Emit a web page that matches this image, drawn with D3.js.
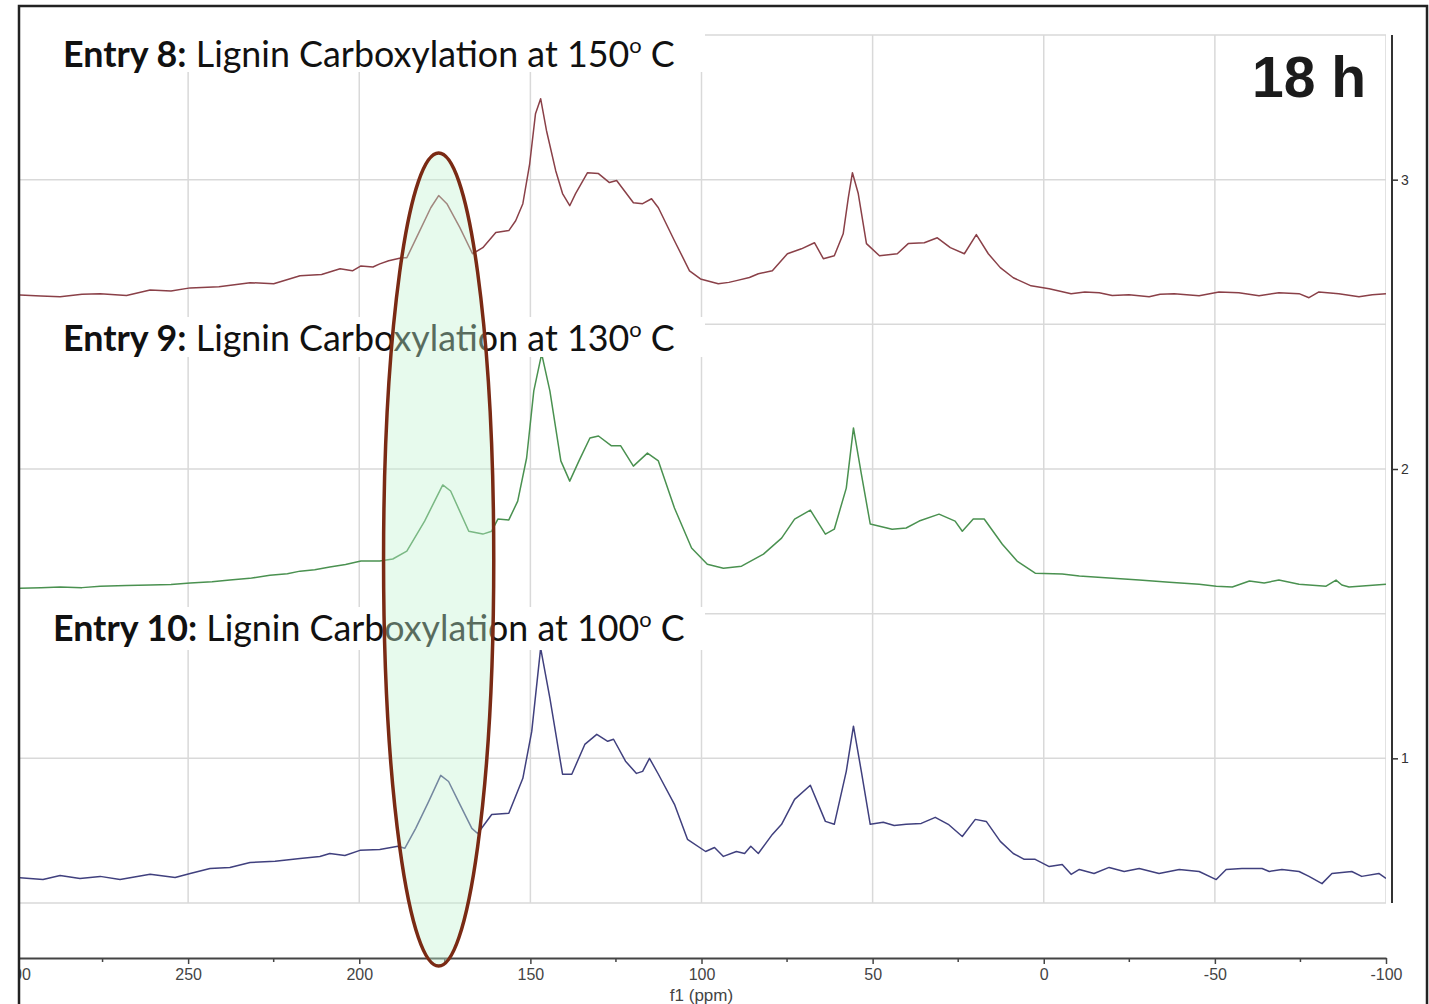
<!DOCTYPE html>
<html><head><meta charset="utf-8">
<script src="https://cdn.jsdelivr.net/npm/d3@7"></script>
<style>body{margin:0;background:#fff;} svg{display:block;}</style>
</head><body><svg id="c" width="1429" height="1004"></svg>
<script>
// ---------- data ----------
const xTickValues = [300, 250, 200, 150, 100, 50, 0, -50, -100];
const xMinorTicks = [275, 225, 175, 125, 75, 25, -25, -75];
const yTickValues = [1, 2, 3];
const yGridValues = [0.5, 1, 1.5, 2, 2.5, 3, 3.5];
const xAxisTitle = "f1 (ppm)";
const timeLabel = "18 h";

// [ppm, intensity]
const entry8 = [[300,2.602],[293,2.598],[287.4,2.595],[281,2.604],[275.7,2.606],[268,2.600],[261.1,2.619],[255,2.615],[249.4,2.626],[241,2.630],[231.9,2.644],[225,2.640],[217.3,2.668],[211,2.672],[205.6,2.692],[202,2.685],[199.5,2.702],[196,2.698],[194.0,2.709],[191.4,2.720],[187.6,2.730],[186.1,2.730],[182.3,2.824],[179.1,2.903],[176.8,2.945],[174.4,2.917],[170.6,2.834],[166.9,2.744],[163.9,2.765],[160.1,2.817],[156.3,2.824],[154.3,2.858],[152.2,2.917],[150.2,3.055],[148.5,3.228],[147.0,3.280],[145.3,3.170],[142.6,3.031],[140.6,2.952],[138.5,2.910],[136.8,2.952],[133.3,3.024],[130.1,3.021],[126.9,2.990],[124.8,2.997],[119.9,2.920],[117.2,2.917],[114.6,2.934],[112.6,2.903],[107.9,2.789],[103.5,2.685],[100.3,2.657],[95.1,2.640],[92,2.645],[89.8,2.651],[86,2.662],[83.4,2.675],[79.3,2.685],[74.9,2.744],[70.8,2.761],[67.0,2.782],[64.4,2.727],[61.2,2.737],[58.6,2.813],[57.1,2.938],[55.9,3.024],[54.2,2.952],[51.8,2.779],[48.0,2.737],[42.8,2.744],[39.6,2.779],[34.9,2.782],[31.1,2.799],[27.3,2.765],[23.2,2.744],[19.7,2.810],[16.2,2.744],[12.7,2.696],[8.9,2.661],[3.7,2.633],[-1.6,2.623],[-8.0,2.606],[-12,2.612],[-16.2,2.609],[-20,2.600],[-24.9,2.602],[-30.8,2.595],[-34,2.604],[-38.1,2.606],[-45.4,2.599],[-51.2,2.612],[-57.0,2.609],[-62.9,2.599],[-68.7,2.609],[-74.6,2.606],[-77.5,2.592],[-80.4,2.612],[-86.2,2.606],[-92.1,2.595],[-96,2.602],[-100,2.606]];

const entry9 = [[300,1.588],[293,1.590],[287.4,1.592],[281,1.590],[275.7,1.595],[268,1.597],[261.1,1.599],[255,1.601],[249.4,1.606],[243,1.610],[237.8,1.616],[232,1.622],[226.1,1.633],[221,1.638],[217.3,1.647],[213,1.652],[208.6,1.661],[204,1.670],[199.5,1.682],[194.0,1.682],[190.2,1.689],[186.1,1.716],[180.9,1.820],[175.6,1.945],[173.3,1.924],[168.0,1.785],[163.9,1.775],[161.3,1.785],[159.5,1.827],[156.3,1.824],[153.7,1.889],[151.1,2.038],[149.0,2.270],[146.7,2.398],[144.3,2.270],[141.1,2.028],[138.5,1.958],[135.8,2.028],[132.6,2.107],[130.1,2.114],[126.3,2.080],[123.6,2.080],[119.9,2.010],[115.8,2.055],[112.6,2.028],[107.9,1.865],[102.9,1.727],[98.3,1.671],[93.6,1.657],[88.3,1.664],[81.9,1.706],[76.6,1.761],[72.8,1.827],[68.2,1.858],[63.8,1.775],[61.2,1.792],[57.7,1.934],[55.6,2.142],[53.3,1.983],[50.7,1.810],[44.3,1.792],[40.2,1.796],[36.4,1.820],[30.6,1.844],[25.9,1.820],[23.8,1.785],[20.6,1.827],[17.4,1.827],[12.1,1.740],[7.8,1.682],[2.5,1.640],[-5.4,1.637],[-10.4,1.630],[-19.1,1.623],[-27.9,1.616],[-36.7,1.609],[-45.4,1.602],[-50.4,1.595],[-55.1,1.592],[-60.1,1.613],[-64.4,1.606],[-68.7,1.616],[-74.6,1.602],[-82.5,1.595],[-85.4,1.616],[-87.1,1.599],[-89.2,1.592],[-100,1.602]];

const entry10 = [[300,0.588],[292.4,0.581],[287.4,0.595],[281.6,0.585],[275.7,0.592],[269.9,0.581],[261.1,0.599],[253.8,0.588],[249.4,0.602],[243.6,0.619],[237.8,0.623],[231.9,0.640],[224.6,0.644],[217.3,0.654],[211.5,0.661],[208.6,0.671],[204.2,0.664],[199.8,0.682],[194.0,0.685],[188.7,0.696],[186.7,0.689],[183.5,0.758],[179.7,0.851],[176.2,0.941],[173.9,0.920],[170.6,0.841],[167.1,0.758],[165.4,0.740],[161.3,0.806],[156.3,0.810],[152.2,0.931],[149.6,1.093],[147.0,1.381],[144.3,1.208],[140.6,0.945],[137.9,0.945],[134.1,1.048],[130.6,1.083],[127.4,1.059],[125.7,1.066],[122.2,0.990],[119.0,0.948],[117.2,0.955],[115.2,1.000],[112.6,0.945],[107.9,0.841],[104.1,0.720],[98.8,0.678],[96.2,0.692],[93.6,0.661],[89.8,0.678],[87.4,0.671],[85.6,0.696],[83.4,0.671],[79.3,0.737],[76.6,0.772],[72.8,0.858],[68.2,0.907],[63.8,0.782],[61.2,0.772],[57.7,0.955],[55.6,1.111],[53.3,0.955],[50.7,0.772],[46.9,0.779],[43.7,0.768],[40.2,0.772],[35.8,0.775],[31.7,0.796],[27.9,0.772],[23.8,0.730],[20.0,0.789],[16.8,0.782],[12.7,0.713],[8.9,0.671],[5.7,0.651],[2.5,0.651],[-1.6,0.626],[-5.4,0.633],[-8.0,0.599],[-10.4,0.616],[-14.7,0.602],[-19.1,0.623],[-23.5,0.609],[-27.9,0.619],[-33.7,0.602],[-39.6,0.616],[-45.4,0.609],[-50.4,0.581],[-53.3,0.616],[-57.9,0.619],[-63.8,0.619],[-65.9,0.609],[-69.6,0.616],[-74.6,0.609],[-77.5,0.592],[-81.3,0.567],[-84.2,0.602],[-90.0,0.609],[-92.9,0.592],[-97.9,0.602],[-100,0.585]];

const seriesNames = ["Entry 8", "Entry 9", "Entry 10"];
const seriesTemps = ["150", "130", "100"];
const seriesData = [entry8, entry9, entry10];
const seriesColors = ["#8a4048", "#4a9150", "#40407e"];

// highlighted region (ppm centre, intensity centre, half-widths)
const highlight = {ppm: 176.8, value: 1.687, dPpm: 16.1, dValue: 1.405};

// ---------- layout ----------
const svg = d3.select("#c");
const x = d3.scaleLinear().domain([300, -100]).range([17, 1386]);
const y = d3.scaleLinear().domain([0.5, 3.5]).range([903, 35]);

svg.append("rect").attr("width", 1429).attr("height", 1004).attr("fill", "#fff");

const defs = svg.append("defs");
defs.append("clipPath").attr("id", "plotClip").append("rect")
  .attr("x", 20).attr("y", 0).attr("width", 1366).attr("height", 1004);
defs.append("clipPath").attr("id", "axisClip").append("rect")
  .attr("x", 20).attr("y", 0).attr("width", 1406).attr("height", 1004);

const plot = svg.append("g").attr("clip-path", "url(#plotClip)");

// grid
plot.append("g").selectAll("line.v").data(xTickValues).join("line")
  .attr("x1", d => x(d)).attr("x2", d => x(d))
  .attr("y1", y(3.5)).attr("y2", y(0.5))
  .attr("stroke", "#d9d9d9").attr("stroke-width", 1.5);
plot.append("g").selectAll("line.h").data(yGridValues).join("line")
  .attr("x1", x(300)).attr("x2", x(-100))
  .attr("y1", d => y(d)).attr("y2", d => y(d))
  .attr("stroke", "#d9d9d9").attr("stroke-width", 1.5);

// spectra
const line = d3.line().x(d => x(d[0])).y(d => y(d[1])).curve(d3.curveLinear);
plot.append("g").selectAll("path").data(seriesData).join("path")
  .attr("d", line).attr("fill", "none")
  .attr("stroke", (d, i) => seriesColors[i]).attr("stroke-width", 1.5)
  .attr("stroke-linejoin", "round");

// label boxes + texts
const labelLayout = [
  {x: 63, base: 67, width: 612, box: [20, 31, 685, 41]},
  {x: 63, base: 351, width: 612, box: [20, 317, 685, 40]},
  {x: 53, base: 641, width: 632, box: [20, 607, 685, 43]}
];
seriesNames.forEach((name, i) => {
  const L = labelLayout[i];
  svg.append("rect").attr("x", L.box[0]).attr("y", L.box[1])
    .attr("width", L.box[2]).attr("height", L.box[3]).attr("fill", "#fff");
  const g = svg.append("g");
  const t = g.append("text").attr("x", 0).attr("y", 0)
    .style("font-family", "Lato, 'Open Sans', sans-serif").style("font-size", "36px").attr("fill", "#111");
  t.append("tspan").attr("font-weight", "bold").text(name + ":");
  t.append("tspan").text(" Lignin Carboxylation at " + seriesTemps[i]);
  t.append("tspan").attr("font-size", "22px").attr("dy", -14).text("o");
  t.append("tspan").attr("dy", 14).text(" C");
  const w = t.node().getComputedTextLength();
  g.attr("transform", `translate(${L.x},${L.base}) scale(${L.width / w},1)`);
});

// right axis
svg.append("line").attr("x1", 1392).attr("x2", 1392).attr("y1", y(3.5)).attr("y2", y(0.5))
  .attr("stroke", "#333").attr("stroke-width", 2);
const ra = svg.append("g").attr("transform", "translate(1392,0)")
  .call(d3.axisRight(y).tickValues(yTickValues).tickFormat(d => String(d)).tickSize(6).tickPadding(3));
ra.select(".domain").remove();
ra.selectAll("line").attr("stroke", "#333").attr("stroke-width", 1.5);
ra.selectAll("text").style("font-family", "'Liberation Sans', Arial, sans-serif")
  .style("font-size", "14px").attr("fill", "#333");

// bottom axis
const axG = svg.append("g").attr("clip-path", "url(#axisClip)");
const ba = axG.append("g").attr("transform", "translate(0,958)")
  .call(d3.axisBottom(x).tickValues(xTickValues).tickFormat(d => String(d)).tickSize(6).tickSizeOuter(0).tickPadding(5));
ba.select(".domain").attr("stroke", "#444").attr("stroke-width", 2);
ba.selectAll(".tick line").attr("stroke", "#444").attr("stroke-width", 1.5);
ba.selectAll("text").style("font-family", "'Liberation Sans', Arial, sans-serif")
  .style("font-size", "16px").attr("fill", "#444");
axG.append("g").selectAll("line").data(xMinorTicks).join("line")
  .attr("x1", d => x(d)).attr("x2", d => x(d)).attr("y1", 958).attr("y2", 962)
  .attr("stroke", "#444").attr("stroke-width", 1.5);
svg.append("text").attr("x", x(100)).attr("y", 1001).attr("text-anchor", "middle")
  .style("font-family", "'Liberation Sans', Arial, sans-serif").style("font-size", "17px")
  .attr("fill", "#444").text(xAxisTitle);

// highlight ellipse
svg.append("ellipse")
  .attr("cx", x(highlight.ppm)).attr("cy", y(highlight.value))
  .attr("rx", Math.abs(x(highlight.ppm + highlight.dPpm) - x(highlight.ppm)))
  .attr("ry", Math.abs(y(highlight.value + highlight.dValue) - y(highlight.value)))
  .attr("fill", "#c4f3d3").attr("fill-opacity", 0.4)
  .attr("stroke", "#7a2a14").attr("stroke-width", 3.5);

// time label
svg.append("text").attr("x", 1252).attr("y", 97)
  .style("font-family", "'Liberation Sans', Arial, sans-serif").style("font-size", "57px")
  .attr("font-weight", "bold").attr("fill", "#1b1b1b").text(timeLabel);

// frame
svg.append("rect").attr("x", 19).attr("y", 6).attr("width", 1408).attr("height", 1010)
  .attr("fill", "none").attr("stroke", "#222").attr("stroke-width", 2.5);
</script></body></html>
